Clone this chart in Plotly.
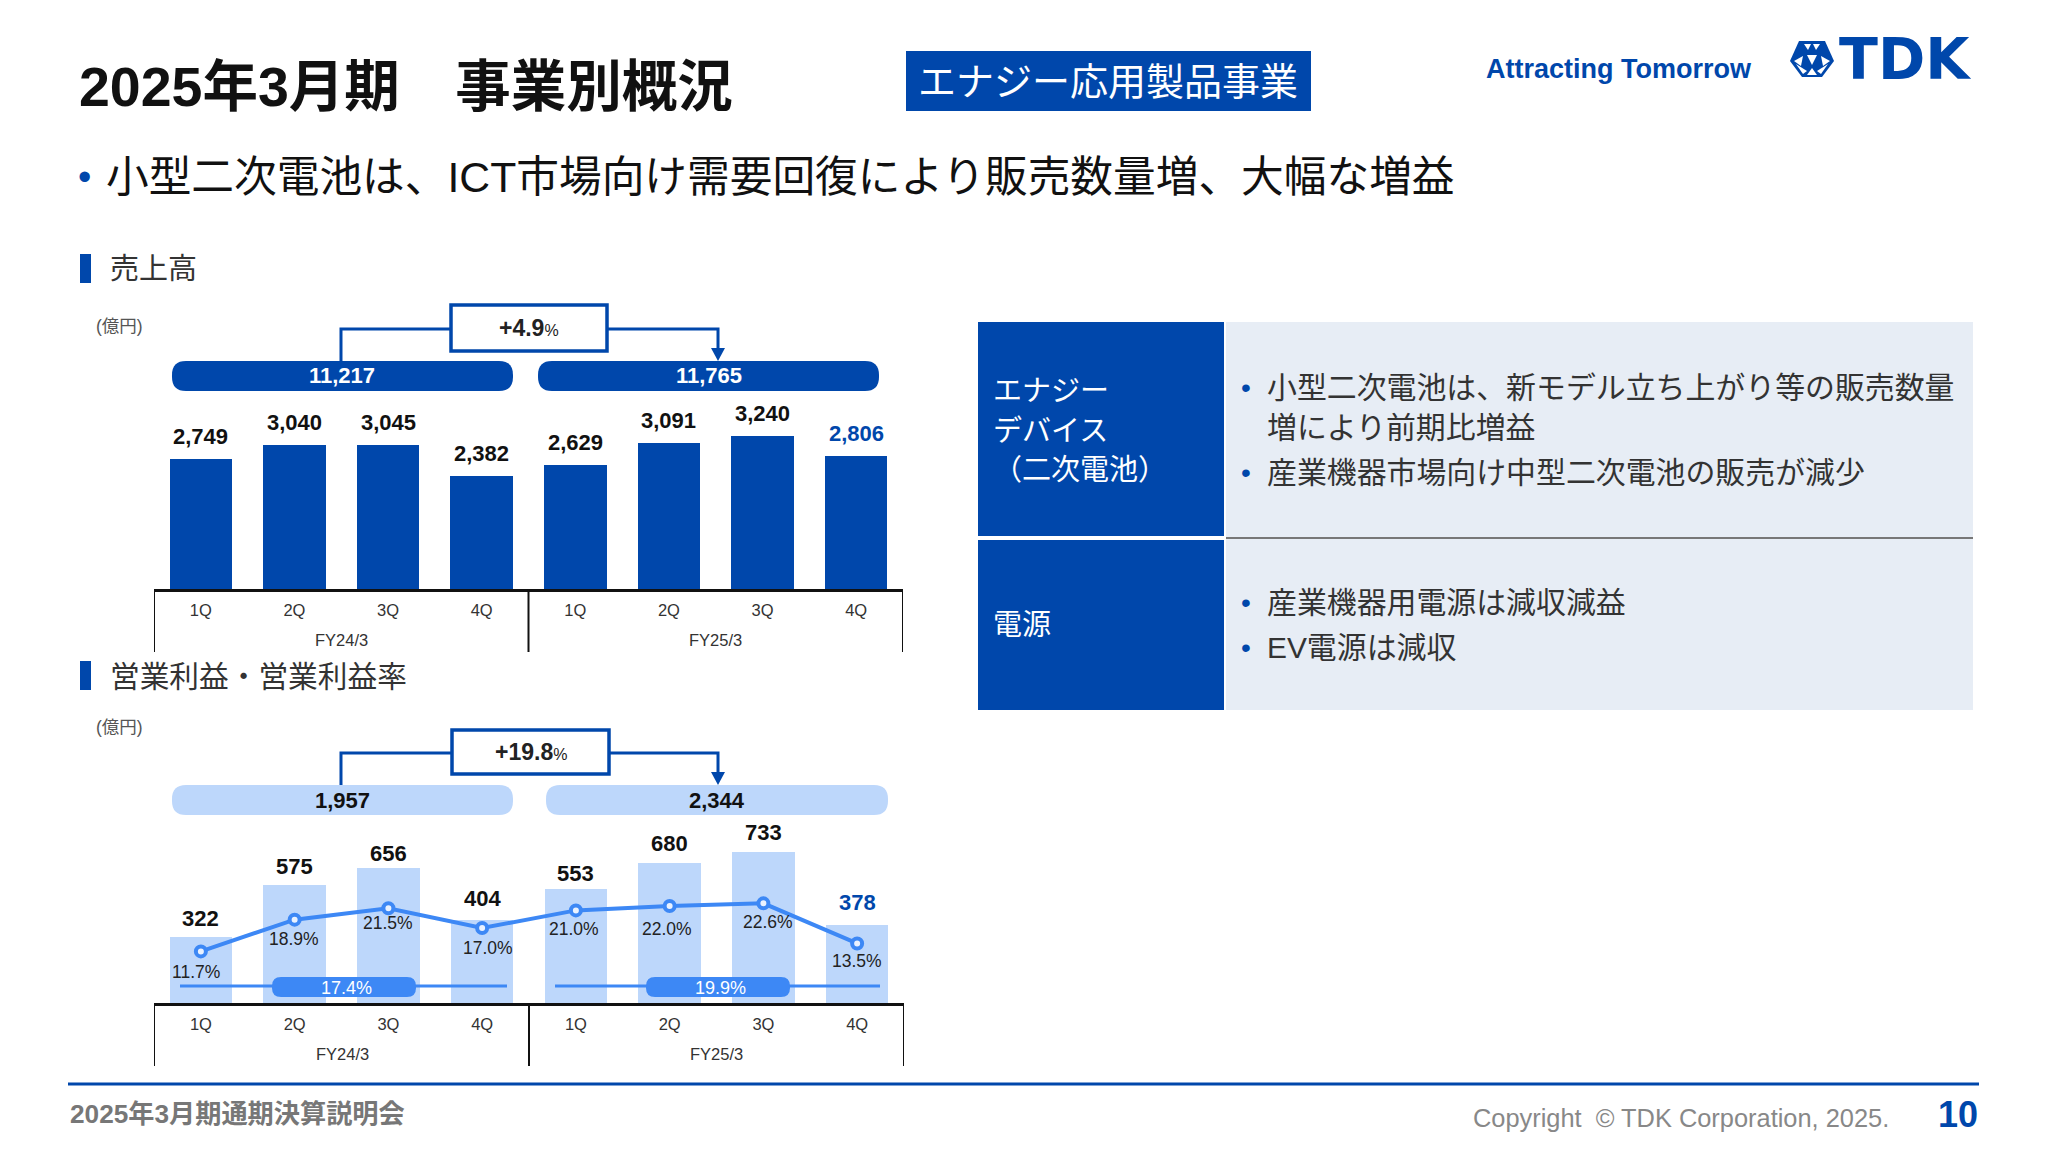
# TDK FY2025/3 results slide - energy application products

import plotly.graph_objects as go

W, H = 2048, 1152
BLUE = "#0047AB"
LIGHT = "#BDD7FB"
LINE = "#3D88F5"
PANEL = "#E7EDF5"
FONT = "Liberation Sans, Noto Sans CJK JP, sans-serif"

# data
quarters = ["1Q", "2Q", "3Q", "4Q", "1Q", "2Q", "3Q", "4Q"]
fiscal_years = ["FY24/3", "FY25/3"]
sales = [2749, 3040, 3045, 2382, 2629, 3091, 3240, 2806]
sales_totals = [11217, 11765]
sales_growth = "+4.9"
op_income = [322, 575, 656, 404, 553, 680, 733, 378]
op_totals = [1957, 2344]
op_growth = "+19.8"
op_margin = [11.7, 18.9, 21.5, 17.0, 21.0, 22.0, 22.6, 13.5]
avg_margin = [17.4, 19.9]
positions = list(range(8))

# label nudges in pixels, same order as the quarters
op_label_lift = [4, 4, 0, 7, 1, 5, 5, 8]
margin_label_dx = [-5, -1, 0, 6, -2, -3, 5, 0]
margin_label_dy = [21, 19, 15, 20, 19, 23, 19, 18]


def px(x):
    return x / W


def py(y):
    return 1 - y / H


def note(x, y, text, size, color="#222222", anchor="center", family=FONT):
    fig.add_annotation(
        x=px(x), y=py(y), xref="paper", yref="paper", text=text, showarrow=False,
        xanchor=anchor, yanchor="middle", font=dict(size=size, color=color, family=family),
    )


def rect(x0, y0, x1, y1, fill, line=None, width=0):
    fig.add_shape(
        type="rect", xref="paper", yref="paper", x0=px(x0), x1=px(x1), y0=py(y0), y1=py(y1),
        fillcolor=fill, line=dict(color=line, width=width) if line else dict(width=0),
    )


def path(points, fill=None, line=None, width=0):
    d = "M" + " L".join(f"{px(a):.5f},{py(b):.5f}" for a, b in points)
    if fill:
        d += " Z"
    fig.add_shape(
        type="path", xref="paper", yref="paper", path=d, fillcolor=fill,
        line=dict(color=line, width=width) if line else dict(width=0),
    )


def pill(x0, y0, x1, y1, r, fill):
    a, b, c, d = px(x0), px(x1), py(y0), py(y1)
    rx, ry = r / W, r / H
    p = (
        f"M{a + rx:.5f},{c:.5f} L{b - rx:.5f},{c:.5f} Q{b:.5f},{c:.5f} {b:.5f},{c - ry:.5f} "
        f"L{b:.5f},{d + ry:.5f} Q{b:.5f},{d:.5f} {b - rx:.5f},{d:.5f} "
        f"L{a + rx:.5f},{d:.5f} Q{a:.5f},{d:.5f} {a:.5f},{d + ry:.5f} "
        f"L{a:.5f},{c - ry:.5f} Q{a:.5f},{c:.5f} {a + rx:.5f},{c:.5f} Z"
    )
    fig.add_shape(type="path", xref="paper", yref="paper", path=p, fillcolor=fill, line=dict(width=0))


def growth_bracket(box, mid_y, left_x, right_x, pill_top, text):
    path([(left_x, pill_top), (left_x, mid_y), (box[0], mid_y)], line=BLUE, width=3)
    path([(box[2], mid_y), (right_x, mid_y), (right_x, pill_top - 10)], line=BLUE, width=3)
    path([(right_x - 7, pill_top - 13), (right_x + 7, pill_top - 13), (right_x, pill_top)], fill=BLUE)
    rect(box[0], box[1], box[2], box[3], "white", BLUE, 3.5)
    label = f'<b>{text}</b><span style="font-size:16px">%</span>'
    note((box[0] + box[2]) / 2, mid_y - 1, label, 23)


fig = go.Figure()

# sales chart
fig.add_bar(x=positions, y=sales, width=0.667, marker=dict(color=BLUE, line=dict(width=0)),
            xaxis="x", yaxis="y", showlegend=False)

# operating profit chart with margin line on its own scale
fig.add_bar(x=positions, y=op_income, width=0.667, marker=dict(color=LIGHT, line=dict(width=0)),
            xaxis="x2", yaxis="y2", showlegend=False)
fig.add_scatter(x=positions, y=op_margin, mode="lines+markers", xaxis="x2", yaxis="y3", showlegend=False,
                line=dict(color=LINE, width=4),
                marker=dict(size=10, color="#EAF2FF", line=dict(color=LINE, width=4)))

axis_common = dict(
    range=[-0.5, 7.5], tickmode="array", tickvals=positions, ticktext=quarters, ticks="",
    tickfont=dict(size=16.5, color="#333333", family=FONT), showgrid=False, zeroline=False,
    showline=True, linecolor="#111111", linewidth=3, fixedrange=True, ticklabelstandoff=4,
)
fig.update_layout(
    width=W, height=H, margin=dict(l=0, r=0, t=0, b=0), autosize=False,
    paper_bgcolor="white", plot_bgcolor="rgba(0,0,0,0)", font=dict(family=FONT), bargap=0,
    xaxis=dict(domain=[px(154), px(903)], anchor="y", **axis_common),
    yaxis=dict(domain=[py(589), py(589 - 4000 * 0.04725)], range=[0, 4000], visible=False, fixedrange=True),
    xaxis2=dict(domain=[px(154), px(904)], anchor="y2", **axis_common),
    yaxis2=dict(domain=[py(1003), py(1003 - 900 * 0.2055)], range=[0, 900], visible=False, fixedrange=True),
    yaxis3=dict(overlaying="y2", range=[0, 900 * 0.2055 / 4.41], visible=False, fixedrange=True),
)

# year dividers under both axes
for xref, top, bottom in (("x", 589, 652), ("x2", 1003, 1066)):
    for pos in (-0.5, 3.5, 7.5):
        fig.add_shape(type="line", xref=xref, yref="paper", x0=pos, x1=pos, y0=py(top), y1=py(bottom),
                      line=dict(color="#111111", width=2))

# value labels
for i, v in enumerate(sales):
    color = BLUE if i == 7 else "#111111"
    fig.add_annotation(x=i, y=v, xref="x", yref="y", text=f"<b>{v:,}</b>", showarrow=False, yanchor="bottom",
                       yshift=8, font=dict(size=22, color=color, family=FONT))
for i, v in enumerate(op_income):
    color = BLUE if i == 7 else "#111111"
    fig.add_annotation(x=i, y=v, xref="x2", yref="y2", text=f"<b>{v:,}</b>", showarrow=False, yanchor="bottom",
                       yshift=op_label_lift[i], font=dict(size=22, color=color, family=FONT))
for i, v in enumerate(op_margin):
    fig.add_annotation(x=i, y=v, xref="x2", yref="y3", text=f"{v:.1f}%", showarrow=False, yanchor="middle",
                       xshift=margin_label_dx[i], yshift=-margin_label_dy[i],
                       font=dict(size=17.5, color="#222222", family=FONT))

# fiscal year labels
for name, x_a, x_b in zip(fiscal_years, (341, 715), (342, 716)):
    note(x_a, 640, name, 16.5, "#333333")
    note(x_b, 1054, name, 16.5, "#333333")

# totals pills
for total, x0, x1, tx in zip(sales_totals, (172, 538), (513, 879), (342, 709)):
    pill(x0, 361, x1, 391, 14, BLUE)
    note(tx, 376, f"<b>{total:,}</b>", 22, "white")
for total, x0, x1, tx in zip(op_totals, (172, 546), (513, 888), (342, 717)):
    pill(x0, 785, x1, 815, 14, LIGHT)
    note(tx, 800, f"<b>{total:,}</b>", 22, "#111111")

growth_bracket((451, 305, 607, 351), 329, 341, 718, 361, sales_growth)
growth_bracket((452, 730, 609, 774), 753, 341, 718, 785, op_growth)

# full-year margin bands
for avg, x0, x1, p0, p1, tx in zip(avg_margin, (180, 555), (507, 880), (272, 646), (416, 790), (346, 720)):
    path([(x0, 986), (x1, 986)], line=LINE, width=3)
    pill(p0, 977, p1, 997, 9, LINE)
    note(tx, 988, f"{avg}%", 18, "white")

# header
note(77, 87, "<b>2025年3月期　事業別概況</b>", 55.5, "#111111", "left")
rect(906, 51, 1311, 111, BLUE)
note(1108, 82, "エナジー応用製品事業", 38, "white")
note(1619, 69, "<b>Attracting Tomorrow</b>", 27, BLUE)

# logo
path([(1799, 41), (1825, 41), (1834, 61), (1822, 77), (1802, 77), (1790, 61)], fill=BLUE)
for tri in (
    [(1804, 44), (1811, 44), (1808, 50)], [(1813, 44), (1820, 44), (1816, 50)], [(1807, 55), (1817, 55), (1812, 65)],
    [(1794, 61), (1803, 56), (1801, 66)], [(1830, 61), (1821, 56), (1823, 66)], [(1796, 64), (1807, 71), (1803, 74)],
    [(1828, 64), (1817, 71), (1821, 74)], [(1812, 68), (1807, 75), (1817, 75)],
):
    path(tri, fill="white")
note(1905, 59, "<b>TDK</b>", 57, BLUE, family="DejaVu Sans, sans-serif")

note(84, 177, "•", 38, BLUE)
note(104, 177, "小型二次電池は、ICT市場向け需要回復により販売数量増、大幅な増益", 42.7, "#111111", "left")

# section headers
rect(80, 254, 91, 283, BLUE)
note(108, 269, "売上高", 29, "#333333", "left")
rect(80, 661, 91, 690, BLUE)
note(108, 676, "営業利益・営業利益率", 29.7, "#333333", "left")
note(119, 326, "(億円)", 17.5, "#555555")
note(119, 727, "(億円)", 17.5, "#555555")

# right-hand table
rect(978, 322, 1224, 536, BLUE)
rect(978, 540, 1224, 710, BLUE)
rect(1226, 322, 1973, 537, PANEL)
rect(1226, 539, 1973, 710, PANEL)
rect(1226, 537, 1973, 539, "#777777")
note(991, 391, "エナジー", 29, "white", "left")
note(991, 431, "デバイス", 29, "white", "left")
note(991, 470, "（二次電池）", 29, "white", "left")
note(991, 625, "電源", 29, "white", "left")

table_lines = [
    (387, True, "小型二次電池は、新モデル立ち上がり等の販売数量"),
    (427, False, "増により前期比増益"),
    (472, True, "産業機器市場向け中型二次電池の販売が減少"),
    (602, True, "産業機器用電源は減収減益"),
    (647, True, "EV電源は減収"),
]
for y, bullet, line_text in table_lines:
    if bullet:
        note(1246, y, "•", 28, BLUE)
    note(1265, y, line_text, 29.9, "#333333", "left")

# footer
rect(68, 1082.5, 1979, 1085.5, BLUE)
note(68, 1114, "<b>2025年3月期通期決算説明会</b>", 26.2, "#777777", "left")
note(1891, 1118, "Copyright  © TDK Corporation, 2025.", 25.4, "#888888", "right")
note(1980, 1114, "<b>10</b>", 36, BLUE, "right")

fig.write_html(
    "out.html",
    config={"displayModeBar": False},
    post_script="document.body.style.margin='0';document.body.style.overflow='hidden';",
)
